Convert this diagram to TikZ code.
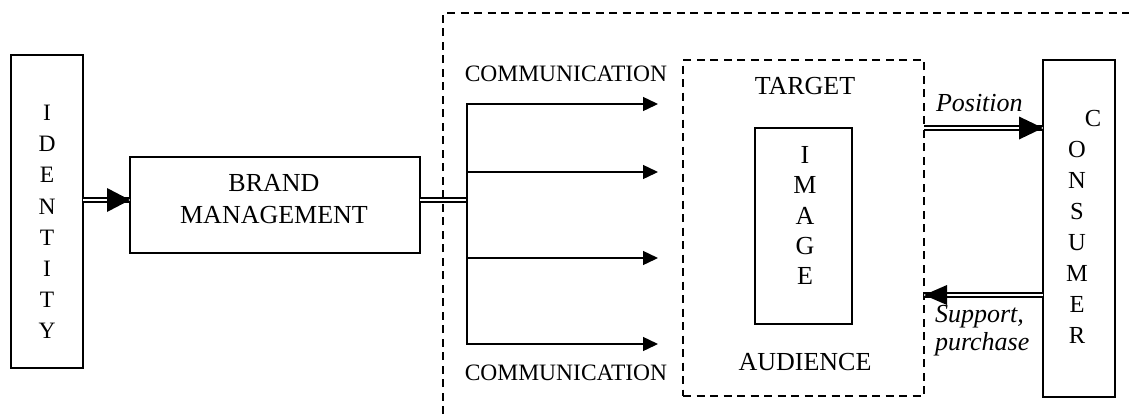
\documentclass[tikz,border=0pt]{standalone}
\usepackage{fontspec}
\setmainfont{Liberation Serif}
\usetikzlibrary{arrows.meta,calc}
\begin{document}
\begin{tikzpicture}[x=1pt,y=-1pt,
  box/.style={draw, line width=1.5pt, inner sep=0pt, outer sep=0pt},
  dbox/.style={draw, line width=1.3pt, dash pattern=on 8pt off 5.5pt, inner sep=0pt, outer sep=0pt},
  txt/.style={inner sep=0pt, outer sep=0pt, align=center, font=\fontsize{26}{31}\selectfont},
  vtxt/.style n args={2}{txt, font=\fontsize{#1}{#2}\selectfont},
  itxt/.style={inner sep=0pt, outer sep=0pt, align=left, font=\fontsize{26}{28}\selectfont\itshape},
  dbl/.style={draw, double=white, line width=1.9pt, double distance=1.7pt},
  arr/.style={draw, line width=1.4pt, -{Triangle[length=15pt,width=14pt]}},
  thin/.style={draw, line width=1.4pt, line cap=rect},
  dashl/.style={draw, line width=1.3pt, dash pattern=on 8pt off 5.5pt}
]
\useasboundingbox (0,0) rectangle (1129,416);

% outer dashed region
\coordinate (o1) at (443,414);
\coordinate (o2) at (443,13);
\coordinate (o3) at (1129,13);
\draw[dashl] (o1) -- (o2) -- (o3);

% identity
\node[box, minimum width=72pt, minimum height=313pt] (id) at (47,211.5) {};
\node[vtxt={23.5}{31.2pt}] (idt) at (47,222) {I\\D\\E\\N\\T\\I\\T\\Y};

% brand management
\node[box, minimum width=290pt, minimum height=96pt] (bm) at (275,205) {};
\node[txt, font=\fontsize{26}{32}\selectfont] (bmt) at (274,199) {BRAND\\MANAGEMENT};

\coordinate (r1) at (0,200);
\draw[dbl] (id.east |- r1) -- (bm.west |- r1);
\fill (bm.west |- r1) -- ++(-23,12) -- ++(0,-24) -- cycle;

% hub and communication arrows
\coordinate (hub) at (467,200);
\draw[dbl] (bm.east |- hub) -- (hub);
\coordinate (t1) at (467,104);
\coordinate (t2) at (467,172);
\coordinate (t3) at (467,258);
\coordinate (t4) at (467,344);
\coordinate (h1) at (658,104);
\coordinate (h2) at (658,172);
\coordinate (h3) at (658,258);
\coordinate (h4) at (658,344);
\draw[thin] (t1) -- (t4);
\draw[arr] (t1) -- (h1);
\draw[arr] (t2) -- (h2);
\draw[arr] (t3) -- (h3);
\draw[arr] (t4) -- (h4);
\node[txt, anchor=base, font=\fontsize{23.5}{28}\selectfont] (c1) at (566,81) {COMMUNICATION};
\node[txt, anchor=base, font=\fontsize{23.5}{28}\selectfont] (c2) at (566,380) {COMMUNICATION};

% target audience
\node[dbox, minimum width=241pt, minimum height=336pt] (tb) at (803.5,228) {};
\node[txt] (tg) at (805,86) {TARGET};
\node[txt] (au) at (805,362) {AUDIENCE};
\node[box, minimum width=97pt, minimum height=196pt] (im) at (803.5,226) {};
\node[vtxt={26}{30.3pt}] (imt) at (805,215.5) {I\\M\\A\\G\\E};

% consumer
\node[box, minimum width=72pt, minimum height=337pt] (cs) at (1079,228.5) {};
\node[vtxt={24.5}{30.9pt}] (cst) at (1077,227) {\hspace*{32pt}C\\O\\N\\S\\U\\M\\E\\R};

% position arrow
\coordinate (p) at (0,128);
\draw[dbl] (tb.east |- p) -- (cs.west |- p);
\fill (cs.west |- p) -- ++(-24,11.5) -- ++(0,-23) -- cycle;
\node[itxt, anchor=base west] (pl) at (936,111) {Position};

% support arrow
\coordinate (s) at (0,295);
\draw[dbl] (cs.west |- s) -- (tb.east |- s);
\fill (tb.east |- s) -- ++(23,10) -- ++(0,-20) -- cycle;
\node[itxt, anchor=base west] (sl) at (935,350) {Support,\\purchase};
\end{tikzpicture}
\end{document}
